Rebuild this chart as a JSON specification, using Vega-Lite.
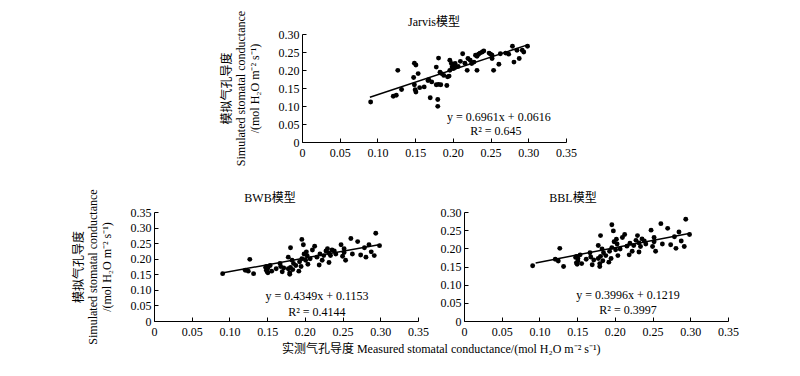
{
  "$schema": "https://vega.github.io/schema/vega-lite/v6.json",
  "padding": {"left": 72, "top": 10, "right": 10, "bottom": 5},
  "background": "white",
  "config": {
    "view": {"stroke": null},
    "axis": {"grid": false, "domainColor": "black", "tickColor": "black", "labelColor": "black", "labelFont": "Liberation Serif", "labelFontSize": 12, "tickSize": -4, "labelOverlap": false, "labelBound": false, "labelFlush": false, "titleFont": "Liberation Serif, Noto Sans CJK SC", "titleFontSize": 12, "titleFontWeight": "normal", "titleColor": "black", "titlePadding": 17},
    "axisX": {"labelPadding": 9},
    "axisY": {"labelPadding": 7},
    "title": {"font": "Liberation Serif, Noto Sans CJK SC", "fontSize": 12, "fontWeight": "normal", "color": "black", "frame": "group"}
  },
  "datasets": {
    "pts": [
      {"x": 0.091, "j": 0.111, "b": 0.152, "l": 0.152},
      {"x": 0.121, "j": 0.127, "b": 0.163, "l": 0.170},
      {"x": 0.125, "j": 0.130, "b": 0.160, "l": 0.165},
      {"x": 0.127, "j": 0.199, "b": 0.198, "l": 0.200},
      {"x": 0.132, "j": 0.146, "b": 0.152, "l": 0.150},
      {"x": 0.148, "j": 0.179, "b": 0.172, "l": 0.175},
      {"x": 0.149, "j": 0.159, "b": 0.163, "l": 0.160},
      {"x": 0.150, "j": 0.145, "b": 0.158, "l": 0.156},
      {"x": 0.151, "j": 0.139, "b": 0.155, "l": 0.165},
      {"x": 0.154, "j": 0.190, "b": 0.178, "l": 0.182},
      {"x": 0.156, "j": 0.151, "b": 0.160, "l": 0.158},
      {"x": 0.162, "j": 0.153, "b": 0.168, "l": 0.170},
      {"x": 0.149, "j": 0.219, "b": 0.175, "l": 0.178},
      {"x": 0.151, "j": 0.214, "b": 0.170, "l": 0.172},
      {"x": 0.167, "j": 0.171, "b": 0.185, "l": 0.188},
      {"x": 0.168, "j": 0.173, "b": 0.175, "l": 0.176},
      {"x": 0.170, "j": 0.123, "b": 0.158, "l": 0.155},
      {"x": 0.172, "j": 0.167, "b": 0.170, "l": 0.168},
      {"x": 0.180, "j": 0.118, "b": 0.150, "l": 0.150},
      {"x": 0.180, "j": 0.099, "b": 0.155, "l": 0.158},
      {"x": 0.178, "j": 0.159, "b": 0.168, "l": 0.172},
      {"x": 0.181, "j": 0.160, "b": 0.172, "l": 0.178},
      {"x": 0.184, "j": 0.159, "b": 0.165, "l": 0.166},
      {"x": 0.181, "j": 0.233, "b": 0.235, "l": 0.235},
      {"x": 0.178, "j": 0.208, "b": 0.205, "l": 0.208},
      {"x": 0.183, "j": 0.194, "b": 0.195, "l": 0.198},
      {"x": 0.185, "j": 0.190, "b": 0.185, "l": 0.188},
      {"x": 0.188, "j": 0.185, "b": 0.178, "l": 0.180},
      {"x": 0.192, "j": 0.157, "b": 0.160, "l": 0.162},
      {"x": 0.193, "j": 0.181, "b": 0.190, "l": 0.192},
      {"x": 0.195, "j": 0.183, "b": 0.175, "l": 0.172},
      {"x": 0.196, "j": 0.199, "b": 0.200, "l": 0.202},
      {"x": 0.196, "j": 0.227, "b": 0.262, "l": 0.265},
      {"x": 0.198, "j": 0.218, "b": 0.245, "l": 0.248},
      {"x": 0.199, "j": 0.208, "b": 0.215, "l": 0.218},
      {"x": 0.201, "j": 0.204, "b": 0.195, "l": 0.196},
      {"x": 0.202, "j": 0.213, "b": 0.222, "l": 0.225},
      {"x": 0.203, "j": 0.218, "b": 0.210, "l": 0.212},
      {"x": 0.204, "j": 0.208, "b": 0.182, "l": 0.180},
      {"x": 0.207, "j": 0.210, "b": 0.200, "l": 0.198},
      {"x": 0.210, "j": 0.224, "b": 0.228, "l": 0.230},
      {"x": 0.213, "j": 0.245, "b": 0.240, "l": 0.238},
      {"x": 0.216, "j": 0.219, "b": 0.205, "l": 0.206},
      {"x": 0.220, "j": 0.232, "b": 0.215, "l": 0.214},
      {"x": 0.223, "j": 0.227, "b": 0.195, "l": 0.192},
      {"x": 0.225, "j": 0.218, "b": 0.210, "l": 0.208},
      {"x": 0.219, "j": 0.199, "b": 0.180, "l": 0.182},
      {"x": 0.228, "j": 0.222, "b": 0.225, "l": 0.222},
      {"x": 0.230, "j": 0.241, "b": 0.232, "l": 0.235},
      {"x": 0.232, "j": 0.238, "b": 0.218, "l": 0.215},
      {"x": 0.234, "j": 0.244, "b": 0.210, "l": 0.205},
      {"x": 0.236, "j": 0.247, "b": 0.228, "l": 0.226},
      {"x": 0.232, "j": 0.199, "b": 0.188, "l": 0.190},
      {"x": 0.239, "j": 0.250, "b": 0.225, "l": 0.220},
      {"x": 0.241, "j": 0.253, "b": 0.215, "l": 0.212},
      {"x": 0.248, "j": 0.247, "b": 0.245, "l": 0.250},
      {"x": 0.250, "j": 0.244, "b": 0.208, "l": 0.205},
      {"x": 0.252, "j": 0.241, "b": 0.232, "l": 0.230},
      {"x": 0.252, "j": 0.232, "b": 0.220, "l": 0.218},
      {"x": 0.254, "j": 0.199, "b": 0.195, "l": 0.192},
      {"x": 0.261, "j": 0.216, "b": 0.265, "l": 0.268},
      {"x": 0.263, "j": 0.245, "b": 0.215, "l": 0.212},
      {"x": 0.270, "j": 0.247, "b": 0.255, "l": 0.255},
      {"x": 0.274, "j": 0.244, "b": 0.212, "l": 0.210},
      {"x": 0.279, "j": 0.266, "b": 0.235, "l": 0.232},
      {"x": 0.281, "j": 0.222, "b": 0.205, "l": 0.200},
      {"x": 0.285, "j": 0.255, "b": 0.245, "l": 0.245},
      {"x": 0.288, "j": 0.232, "b": 0.222, "l": 0.220},
      {"x": 0.292, "j": 0.255, "b": 0.210, "l": 0.205},
      {"x": 0.294, "j": 0.250, "b": 0.282, "l": 0.280},
      {"x": 0.299, "j": 0.266, "b": 0.242, "l": 0.238}
    ]
  },
  "title": {"text": "实测气孔导度 Measured stomatal conductance/(mol H₂O m⁻² s⁻¹)", "orient": "bottom", "anchor": "middle", "dx": 36, "offset": 0, "frame": "bounds"},
  "bounds": "flush",
  "spacing": 178,
  "vconcat": [
    {
      "bounds": "flush",
      "spacing": 10,
      "hconcat": [
        {"width": 138, "height": 108, "data": {"values": [{"a": 0}]}, "mark": {"type": "point", "opacity": 0}, "encoding": {}},
        {
          "width": 264, "height": 108,
          "title": {"text": "Jarvis模型", "offset": -19},
          "encoding": {
            "x": {"field": "x", "type": "quantitative", "scale": {"domain": [0, 0.35], "nice": false}, "axis": {"title": null, "labelOverlap": false, "values": [0, 0.05, 0.1, 0.15, 0.2, 0.25, 0.3, 0.35], "labelExpr": "datum.value == 0 ? '0' : format(datum.value, '.2f')"}},
            "y": {"field": "j", "type": "quantitative", "scale": {"domain": [0, 0.3], "nice": false}, "axis": {"title": ["模拟气孔导度", "Simulated stomatal conductance", "/(mol H₂O m⁻² s⁻¹)"], "labelOverlap": false, "values": [0, 0.05, 0.1, 0.15, 0.2, 0.25, 0.3], "labelExpr": "datum.value == 0 ? '0' : format(datum.value, '.2f')"}}
          },
          "layer": [
            {"data": {"name": "pts"}, "mark": {"type": "circle", "size": 24, "color": "black", "opacity": 1}},
            {"data": {"values": [{"x": 0.09, "j": 0.1242}, {"x": 0.30, "j": 0.2704}]}, "mark": {"type": "line", "color": "black", "strokeWidth": 1.5}},
            {"data": {"values": [{"x": 0.261, "j": 0.070, "t": "y = 0.6961x + 0.0616"}, {"x": 0.257, "j": 0.031, "t": "R² = 0.645"}]}, "mark": {"type": "text", "font": "Liberation Serif", "fontSize": 12, "color": "black"},
             "encoding": {"text": {"field": "t"}}}
          ]
        }
      ]
    },
    {
      "bounds": "flush",
      "spacing": 46,
      "hconcat": [
        {
          "width": 264, "height": 109,
          "title": {"text": "BWB模型", "dx": -16, "offset": -16},
          "encoding": {
            "x": {"field": "x", "type": "quantitative", "scale": {"domain": [0, 0.35], "nice": false}, "axis": {"title": null, "labelOverlap": false, "values": [0, 0.05, 0.1, 0.15, 0.2, 0.25, 0.3, 0.35], "labelExpr": "datum.value == 0 ? '0' : format(datum.value, '.2f')"}},
            "y": {"field": "b", "type": "quantitative", "scale": {"domain": [0, 0.35], "nice": false}, "axis": {"title": ["模拟气孔导度", "Simulated stomatal conductance", "/(mol H₂O m⁻² s⁻¹)"], "labelOverlap": false, "values": [0, 0.05, 0.1, 0.15, 0.2, 0.25, 0.3, 0.35], "labelExpr": "datum.value == 0 ? '0' : format(datum.value, '.2f')"}}
          },
          "layer": [
            {"data": {"name": "pts"}, "mark": {"type": "circle", "size": 24, "color": "black", "opacity": 1}},
            {"data": {"values": [{"x": 0.09, "b": 0.1544}, {"x": 0.30, "b": 0.2458}]}, "mark": {"type": "line", "color": "black", "strokeWidth": 1.5}},
            {"data": {"values": [{"x": 0.216, "b": 0.081, "t": "y = 0.4349x + 0.1153"}, {"x": 0.216, "b": 0.029, "t": "R² = 0.4144"}]}, "mark": {"type": "text", "font": "Liberation Serif", "fontSize": 12, "color": "black"},
             "encoding": {"text": {"field": "t"}}}
          ]
        },
        {
          "width": 264, "height": 109,
          "title": {"text": "BBL模型", "dx": -23, "offset": 1},
          "encoding": {
            "x": {"field": "x", "type": "quantitative", "scale": {"domain": [0, 0.35], "nice": false}, "axis": {"title": null, "labelOverlap": false, "values": [0, 0.05, 0.1, 0.15, 0.2, 0.25, 0.3, 0.35], "labelExpr": "datum.value == 0 ? '0' : format(datum.value, '.2f')"}},
            "y": {"field": "l", "type": "quantitative", "scale": {"domain": [0, 0.3], "nice": false}, "axis": {"title": null, "labelOverlap": false, "values": [0, 0.05, 0.1, 0.15, 0.2, 0.25, 0.3], "labelExpr": "datum.value == 0 ? '0' : format(datum.value, '.2f')"}}
          },
          "layer": [
            {"data": {"name": "pts"}, "mark": {"type": "circle", "size": 24, "color": "black", "opacity": 1}},
            {"data": {"values": [{"x": 0.095, "l": 0.1599}, {"x": 0.30, "l": 0.2418}]}, "mark": {"type": "line", "color": "black", "strokeWidth": 1.5}},
            {"data": {"values": [{"x": 0.2175, "l": 0.072, "t": "y = 0.3996x + 0.1219"}, {"x": 0.2175, "l": 0.031, "t": "R² = 0.3997"}]}, "mark": {"type": "text", "font": "Liberation Serif", "fontSize": 12, "color": "black"},
             "encoding": {"text": {"field": "t"}}}
          ]
        }
      ]
    }
  ]
}
